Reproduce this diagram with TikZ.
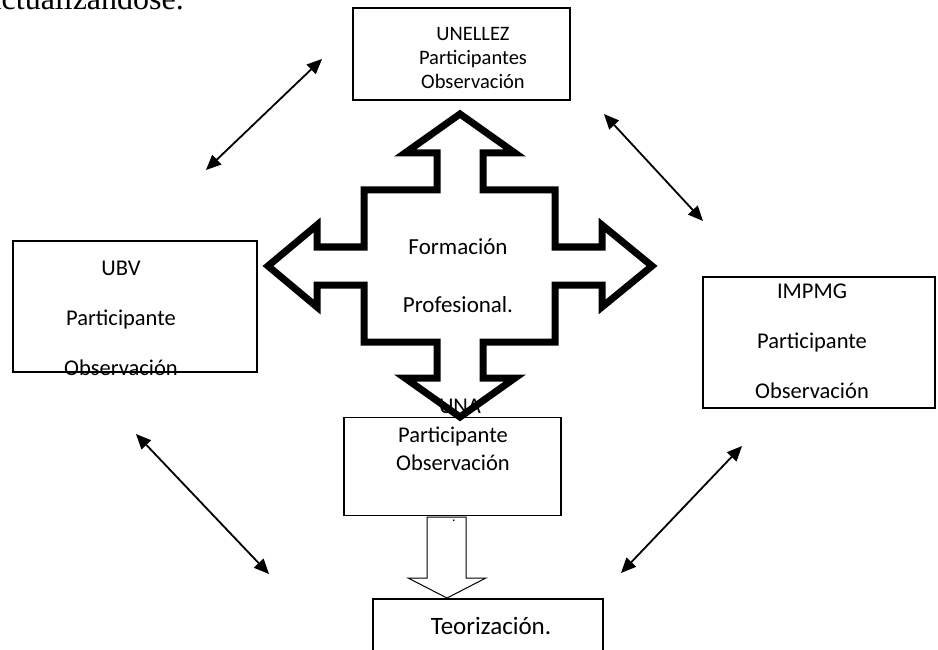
\documentclass[tikz,border=0pt]{standalone}
\usepackage{fontspec}
\setmainfont{Carlito}
\newfontfamily\serifface{Liberation Serif}
\usetikzlibrary{arrows.meta}
\begin{document}
\begin{tikzpicture}[x=1pt,y=-1pt,
  box/.style={draw=black,line width=1.2pt,inner sep=0pt},
  lbl/.style={align=center,inner sep=0pt},
  dbl/.style={line width=1.8pt,{Triangle[length=15pt,width=13pt]}-{Triangle[length=15pt,width=13pt]}},
  bigcross/.style={draw=black,line width=7pt,line join=miter},
  hollow/.style={draw=black,line width=1pt,line join=miter}]
\useasboundingbox (0,0) rectangle (938,650);
% partial top text (cut by the top edge, as in the reference)
\node[anchor=base east,inner sep=0pt,font=\serifface\fontsize{32}{36}\selectfont] (toptext) at (184,10) {actualizándose.};
% boxes
\node[box,minimum width=217pt,minimum height=92pt] (unellez) at (461.5,54) {};
\node[lbl,font=\fontsize{20.5}{24}\selectfont] (unelleztxt) at (473,58) {UNELLEZ\\Participantes\\Observación};
\node[box,minimum width=244pt,minimum height=131pt] (ubv) at (135,306.5) {};
\node[lbl,font=\fontsize{22.5}{26}\selectfont,anchor=center] (ubvtxt) at (121,318) {UBV\\[24pt]Participante\\[24pt]Observación};
\node[box,minimum width=232pt,minimum height=131pt] (impmg) at (819,342.5) {};
\node[lbl,font=\fontsize{22.5}{26}\selectfont] (impmgtxt) at (812,341) {IMPMG\\[24pt]Participante\\[24pt]Observación};
\node[box,minimum width=217pt,minimum height=98pt] (una) at (452.5,466.5) {};
\node[lbl,font=\fontsize{22.5}{26}\selectfont] (unaname) at (460,406) {UNA};
\node[lbl,font=\fontsize{22.5}{28}\selectfont] (unatxt) at (453,449) {Participante\\Observación};
\node[box,minimum width=230pt,minimum height=70pt] (teo) at (488,634) {};
\node[lbl,font=\fontsize{25}{30}\selectfont] (teotxt) at (491,626) {Teorización.};
% central cross arrow
\draw[bigcross] (460,114) -- (515,153) -- (483,153) -- (483,190) -- (555,190) -- (555,247)
  -- (602,247) -- (602,225) -- (652,266) -- (602,307) -- (602,285) -- (555,285) -- (555,342)
  -- (483,342) -- (483,378) -- (515,378) -- (460,417) -- (405,378) -- (437,378) -- (437,342)
  -- (364,342) -- (364,285) -- (317,285) -- (317,307) -- (268,266) -- (317,225) -- (317,247)
  -- (364,247) -- (364,190) -- (437,190) -- (437,153) -- (405,153) -- cycle;
\node[lbl,font=\fontsize{23}{27}\selectfont] (form) at (458,247) {Formación};
\node[lbl,font=\fontsize{23}{27}\selectfont] (prof) at (458,305) {Profesional.};
% hollow down arrow
\draw[hollow,fill=white] (427,517) -- (466,517) -- (466,578) -- (486,578) -- (447,598) -- (408,578) -- (427,578) -- cycle;
\node[lbl,font=\fontsize{14}{16}\selectfont] (dot) at (454,521) {.};
% double arrows
\coordinate (a1) at (206,170); \coordinate (a2) at (322,59);
\coordinate (b1) at (604,114); \coordinate (b2) at (703,221);
\coordinate (c1) at (136,434); \coordinate (c2) at (269,574);
\coordinate (d1) at (742,446); \coordinate (d2) at (621,573);
\draw[dbl] (a1) -- (a2);
\draw[dbl] (b1) -- (b2);
\draw[dbl] (c1) -- (c2);
\draw[dbl] (d1) -- (d2);
\end{tikzpicture}
\end{document}
